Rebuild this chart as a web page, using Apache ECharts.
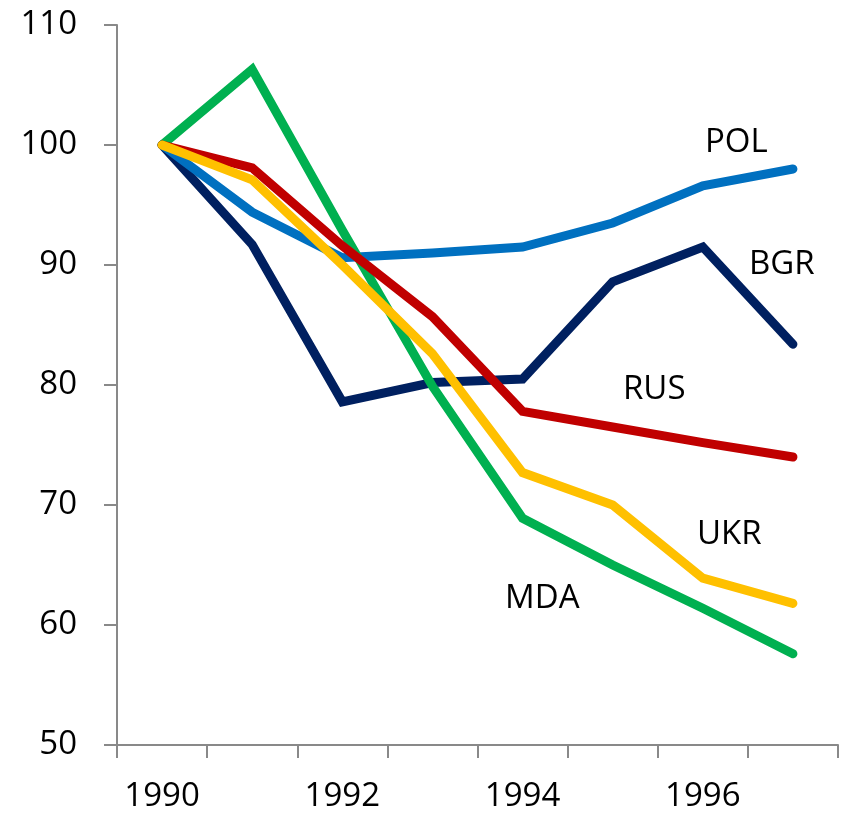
<!DOCTYPE html>
<html>
<head>
<meta charset="utf-8">
<script src="https://cdn.jsdelivr.net/npm/echarts@6/dist/echarts.min.js"></script>
<style>
  html, body { margin: 0; padding: 0; background: #fff; }
  #chart { width: 842px; height: 817px; }
</style>
</head>
<body>
<div id="chart"></div>
<script>
var years = ['1990', '1991', '1992', '1993', '1994', '1995', '1996', '1997'];

var bgr = [100, 91.7, 78.6, 80.2, 80.5, 88.6, 91.5, 83.4];
var pol = [100, 94.4, 90.6, 91.0, 91.5, 93.5, 96.6, 98.0];
var mda = [100, 106.3, 92.9, 79.9, 68.9, 65.0, 61.4, 57.6];
var rus = [100, 98.1, 91.6, 85.7, 77.8, 76.5, 75.2, 74.0];
var ukr = [100, 97.1, 90.0, 82.6, 72.7, 70.0, 63.9, 61.8];

var font = '"Open Sans", "Noto Sans", sans-serif';
var axisGrey = '#898989';

var chart = echarts.init(document.getElementById('chart'));

function line(name, data, color) {
    return {
        name: name,
        type: 'line',
        data: data,
        symbol: 'none',
        animation: false,
        lineStyle: { color: color, width: 9, cap: 'round', join: 'miter' },
        emphasis: { disabled: true }
    };
}

// series name tags placed next to the lines
function tag(text, x, y) {
    return {
        type: 'text',
        left: x,
        top: y,
        style: { text: text, font: '33px ' + font, fill: '#000' }
    };
}

var option = {
    animation: false,
    grid: { left: 117, right: 4, top: 25, bottom: 72 },
    xAxis: {
        type: 'category',
        data: years,
        boundaryGap: true,
        axisLine: { lineStyle: { color: axisGrey, width: 2 } },
        axisTick: { show: true, interval: 0, length: 13, lineStyle: { color: axisGrey, width: 2 } },
        axisLabel: { interval: 1, margin: 35, color: '#000', fontSize: 33, fontFamily: font },
        splitLine: { show: false }
    },
    yAxis: {
        type: 'value',
        min: 50,
        max: 110,
        interval: 10,
        axisLine: { show: true, lineStyle: { color: axisGrey, width: 2 } },
        axisTick: { show: true, length: 13, lineStyle: { color: axisGrey, width: 2 } },
        axisLabel: { margin: 40, color: '#000', fontSize: 33, fontFamily: font },
        splitLine: { show: false }
    },
    series: [
        line('BGR', bgr, '#002060'),
        line('POL', pol, '#0070C0'),
        line('MDA', mda, '#00B050'),
        line('RUS', rus, '#C00000'),
        line('UKR', ukr, '#FFC000')
    ],
    graphic: [
        tag('POL', 705, 126),
        tag('BGR', 749, 248),
        tag('RUS', 623, 373),
        tag('UKR', 697, 518),
        tag('MDA', 505, 582)
    ]
};

chart.setOption(option);

window.onresize = chart.resize;
</script>
</body>
</html>
